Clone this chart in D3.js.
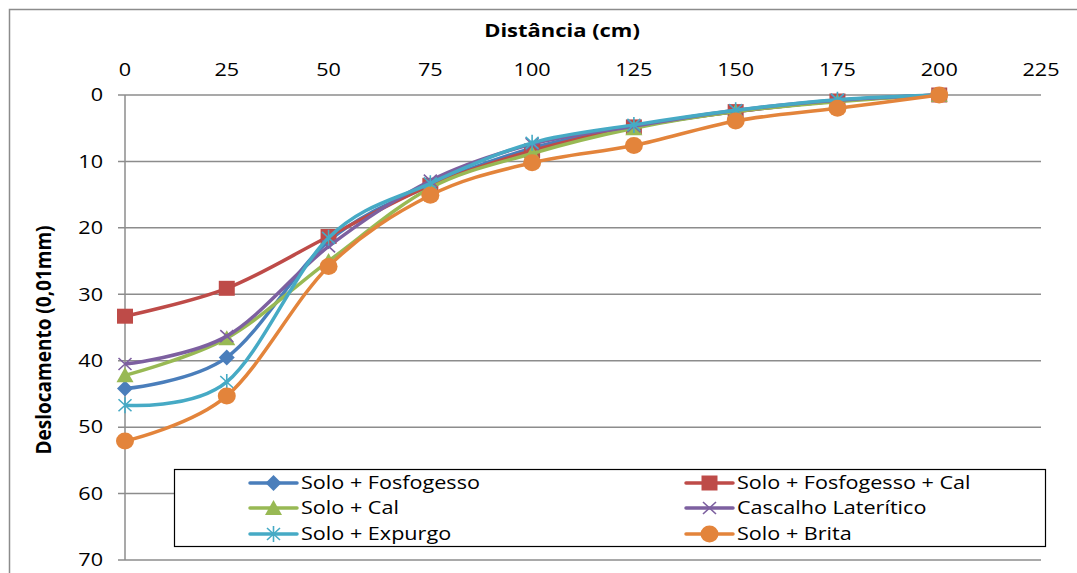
<!DOCTYPE html>
<html lang="pt">
<head>
  <meta charset="UTF-8" />
  <title>Deslocamento x Distância</title>
  <script src="https://d3js.org/d3.v7.min.js"></script>
  <style>
    body { margin: 0; padding: 0; background: #fff; }
    svg { display: block; font-family: "Open Sans", Arial, sans-serif; }
    .grid line { stroke: #8c8c8c; stroke-width: 1.5; }
    .tick-label { font-size: 18px; fill: #000; }
    .axis-title { font-size: 18px; font-weight: bold; fill: #000; }
    .legend-text { font-size: 18px; fill: #000; }
  </style>
</head>
<body>
  <svg id="chart" width="1077" height="573"></svg>
  <script>
    // distâncias (cm)
    const distances = [0, 25, 50, 75, 100, 125, 150, 175, 200];
    const xTicks = [0, 25, 50, 75, 100, 125, 150, 175, 200, 225];
    const yTicks = [0, 10, 20, 30, 40, 50, 60, 70];

    // deslocamentos (0,01mm)
    const fosfogesso    = [44.2, 39.5, 22.0, 13.6, 8.0, 4.8, 2.5, 0.9, 0];
    const fosfogessoCal = [33.3, 29.1, 21.3, 13.6, 8.4, 4.8, 2.5, 0.9, 0];
    const cal           = [42.2, 36.6, 25.0, 14.0, 8.8, 5.0, 2.5, 1.0, 0];
    const cascalho      = [40.5, 36.3, 22.8, 12.9, 7.4, 4.7, 2.3, 0.8, 0];
    const expurgo       = [46.7, 43.2, 21.5, 13.3, 7.2, 4.5, 2.3, 0.7, 0];
    const brita         = [52.1, 45.3, 25.8, 15.1, 10.2, 7.6, 3.9, 2.0, 0];

    const seriesNames = ["Solo + Fosfogesso", "Solo + Fosfogesso + Cal", "Solo + Cal",
                         "Cascalho Laterítico", "Solo + Expurgo", "Solo + Brita"];
    const seriesValues = [fosfogesso, fosfogessoCal, cal, cascalho, expurgo, brita];
    const seriesColors = ["#4a7ebb", "#be4b48", "#98b954", "#7d60a0", "#46aac5", "#e3843b"];
    const seriesMarkers = ["diamond", "square", "triangle", "x", "star", "circle"];

    // o original está esticado na horizontal
    const stretch = 1.2;

    const svg = d3.select("#chart");

    // moldura externa
    svg.append("rect")
      .attr("x", 9.5).attr("y", 9.5)
      .attr("width", 1090).attr("height", 600)
      .attr("fill", "none").attr("stroke", "#8c8c8c").attr("stroke-width", 1.5);

    const x = d3.scaleLinear().domain([0, 225]).range([125, 1041]);
    const y = d3.scaleLinear().domain([0, 70]).range([95, 560]);

    // grade horizontal
    const grid = svg.append("g").attr("class", "grid");
    grid.selectAll("line").data(yTicks).enter().append("line")
      .attr("x1", 118).attr("x2", x(225))
      .attr("y1", d => y(d)).attr("y2", d => y(d));

    // eixo vertical
    svg.append("line")
      .attr("x1", x(0)).attr("x2", x(0))
      .attr("y1", y(0)).attr("y2", y(70))
      .attr("stroke", "#8c8c8c").attr("stroke-width", 1.5);

    svg.append("g").selectAll("text").data(xTicks).enter().append("text")
      .attr("class", "tick-label")
      .attr("transform", d => `translate(${x(d)},76) scale(${stretch},1)`)
      .attr("text-anchor", "middle")
      .text(d => d);

    svg.append("g").selectAll("text").data(yTicks).enter().append("text")
      .attr("class", "tick-label")
      .attr("transform", d => `translate(103,${y(d)}) scale(${stretch},1)`)
      .attr("dy", "0.35em")
      .attr("text-anchor", "end")
      .text(d => d);

    svg.append("text").attr("class", "axis-title")
      .attr("transform", `translate(562,37) scale(1.22,1)`)
      .attr("text-anchor", "middle")
      .text("Distância (cm)");

    svg.append("text").attr("class", "axis-title")
      .style("font-size", "19px")
      .attr("transform", "translate(51,340) scale(1.15,1) rotate(-90)")
      .attr("text-anchor", "middle")
      .text("Deslocamento (0,01mm)");

    function markerPath(type) {
      switch (type) {
        case "diamond": return "M0,-8L8,0L0,8L-8,0Z";
        case "square": return "M-8,-7.5H8V7.5H-8Z";
        case "triangle": return "M0,-8L8.5,7H-8.5Z";
        case "x": return "M-6.5,-6L6.5,6M6.5,-6L-6.5,6";
        case "star": return "M-6.5,-6L6.5,6M6.5,-6L-6.5,6M0,-8V8";
        case "circle": return "M-9,0A9,8.5 0 1,0 9,0A9,8.5 0 1,0 -9,0Z";
      }
    }

    function drawMarker(g, type, color, cx, cy) {
      const stroked = type === "x" || type === "star";
      g.append("path")
        .attr("d", markerPath(type))
        .attr("transform", `translate(${cx},${cy})`)
        .attr("fill", stroked ? "none" : color)
        .attr("stroke", color)
        .attr("stroke-width", stroked ? 1.6 : 0);
    }

    const line = d3.line()
      .x(d => x(d[0])).y(d => y(d[1]))
      .curve(d3.curveCatmullRom.alpha(0));

    seriesValues.forEach((vals, i) => {
      const pts = distances.map((d, j) => [d, vals[j]]);
      const g = svg.append("g");
      g.append("path")
        .attr("d", line(pts))
        .attr("fill", "none")
        .attr("stroke", seriesColors[i])
        .attr("stroke-width", 3.5);
      pts.forEach(p => drawMarker(g, seriesMarkers[i], seriesColors[i], x(p[0]), y(p[1])));
    });

    // legenda
    const legend = svg.append("g");
    legend.append("rect")
      .attr("x", 174.5).attr("y", 469.5)
      .attr("width", 871).attr("height", 77)
      .attr("fill", "#fff").attr("stroke", "#000").attr("stroke-width", 1.2);

    const colX = [250, 686];
    const rowY = [483, 508, 534];
    seriesNames.forEach((name, i) => {
      const lx = colX[i % 2], ly = rowY[Math.floor(i / 2)];
      legend.append("line")
        .attr("x1", lx).attr("x2", lx + 47)
        .attr("y1", ly).attr("y2", ly)
        .attr("stroke", seriesColors[i]).attr("stroke-width", 3.5)
        .attr("stroke-linecap", "round");
      drawMarker(legend, seriesMarkers[i], seriesColors[i], lx + 23.5, ly);
      legend.append("text").attr("class", "legend-text")
        .attr("transform", `translate(${lx + 51},${ly}) scale(${stretch},1)`)
        .attr("dy", "0.35em")
        .text(name);
    });
  </script>
</body>
</html>
